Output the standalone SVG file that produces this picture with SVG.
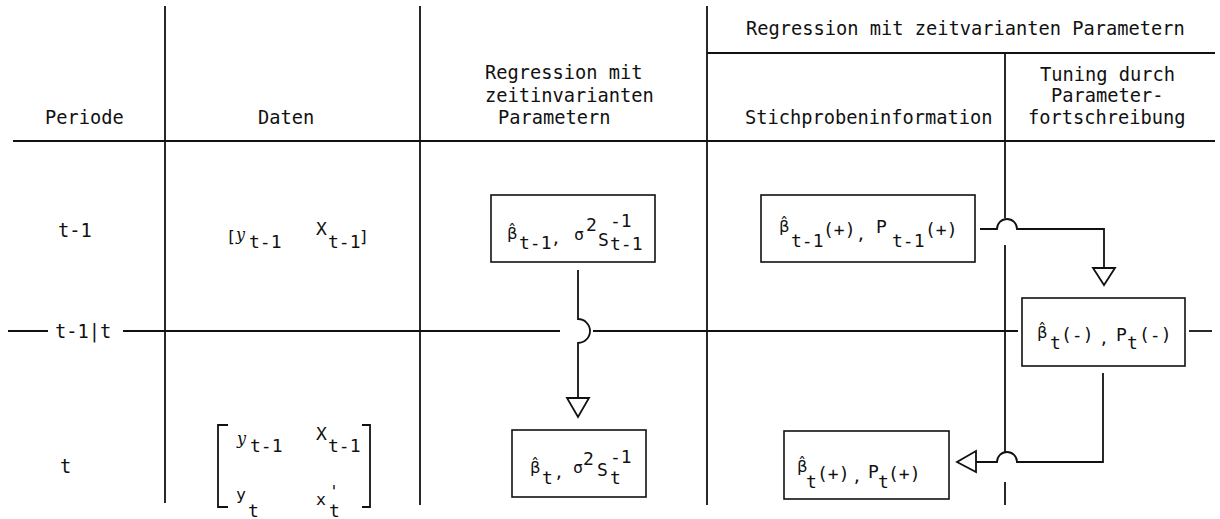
<svg xmlns="http://www.w3.org/2000/svg" width="1220" height="519" viewBox="0 0 1220 519">
<style>
text{font-family:"DejaVu Sans Mono","Liberation Mono",monospace;fill:#111;font-size:18.7px}
.sm{font-size:16.5px}
.sb{font-size:18px}
.bh{font-family:"DejaVu Sans","Noto Sans",sans-serif;font-size:16.5px}
.it{font-family:"DejaVu Serif","Liberation Serif",serif;font-style:italic;font-size:16px}
.ln{stroke:#111;stroke-width:1.8;fill:none}
.bx{stroke:#111;stroke-width:1.6;fill:#fff}
.ah{stroke:#111;stroke-width:1.8;fill:#fff}
</style>
<g id="grid">
<line class="ln" x1="165" y1="6" x2="165" y2="503"/>
<line class="ln" x1="420" y1="6" x2="420" y2="505"/>
<line class="ln" x1="707" y1="6" x2="707" y2="505"/>
<line class="ln" x1="1005" y1="53" x2="1005" y2="218"/>
<line class="ln" x1="1005" y1="245" x2="1005" y2="452"/>
<line class="ln" x1="1005" y1="482" x2="1005" y2="505"/>
<line class="ln" x1="707" y1="53" x2="1215" y2="53"/>
<line class="ln" x1="13" y1="141" x2="1215" y2="141"/>
<line class="ln" x1="8" y1="331" x2="48" y2="331"/>
<line class="ln" x1="123" y1="331" x2="560" y2="331"/>
<line class="ln" x1="593" y1="331" x2="1018" y2="331"/>
<line class="ln" x1="1189" y1="331" x2="1212" y2="331"/>
</g>
<g id="headers">
<text x="45" y="124">Periode</text>
<text x="258" y="124">Daten</text>
<text x="485" y="79">Regression mit</text>
<text x="485" y="102">zeitinvarianten</text>
<text x="498" y="124">Parametern</text>
<text x="746" y="35">Regression mit zeitvarianten Parametern</text>
<text x="745" y="124">Stichprobeninformation</text>
<text x="1040" y="81">Tuning durch</text>
<text x="1051" y="102">Parameter-</text>
<text x="1028" y="124">fortschreibung</text>
</g>
<g id="rows">
<text x="58" y="237">t-1</text>
<text x="55" y="338">t-1|t</text>
<text x="60" y="473">t</text>
</g>
<g id="data-t1">
<text x="226" y="242" class="sm">[</text>
<text x="236" y="240" class="it">y</text>
<text x="249" y="248" class="sb">t-1</text>
<text x="316" y="235" class="sb">X</text>
<text x="328" y="248" class="sb">t-1</text>
<text x="359" y="242" class="sm">]</text>
</g>
<g id="data-t">
<path class="ln" d="M228,425 H218 V507 H228 M362,425 H370 V507 H362" stroke-width="1.6"/>
<text x="237" y="444" class="it">y</text>
<text x="250" y="452" class="sb">t-1</text>
<text x="316" y="440" class="sb">X</text>
<text x="328" y="452" class="sb">t-1</text>
<text x="236" y="500" class="sm">y</text>
<text x="248" y="517" class="sb">t</text>
<text x="316" y="505" class="sm">x</text>
<text x="329" y="497" class="sm">'</text>
<text x="329" y="517" class="sb">t</text>
</g>
<g id="box-b-t1">
<rect class="bx" x="491" y="195" width="164" height="67"/>
<text x="507" y="239" class="bh">β̂</text>
<text x="519" y="249" class="sb">t-1</text>
<text x="551" y="244" class="sm">,</text>
<text x="574" y="240" class="sm">σ</text>
<text x="586" y="231" class="sb">2</text>
<text x="598" y="246" class="sb">S</text>
<text x="610" y="227" class="sb">-1</text>
<text x="610" y="250" class="sb">t-1</text>
</g>
<g id="box-b-t">
<rect class="bx" x="512" y="430" width="134" height="67"/>
<text x="530" y="473" class="bh">β̂</text>
<text x="542" y="484" class="sb">t</text>
<text x="554" y="478" class="sm">,</text>
<text x="573" y="473" class="sm">σ</text>
<text x="583" y="465" class="sb">2</text>
<text x="597" y="476" class="sb">S</text>
<text x="610" y="463" class="sb">-1</text>
<text x="610" y="484" class="sb">t</text>
</g>
<g id="box-bp-t1">
<rect class="bx" x="761" y="195" width="214" height="67"/>
<text x="779" y="232" class="bh">β̂</text>
<text x="791" y="247" class="sb">t-1</text>
<text x="823" y="236" class="sb">(+)</text>
<text x="856" y="240" class="sm">,</text>
<text x="876" y="233" class="sb">P</text>
<text x="892" y="247" class="sb">t-1</text>
<text x="925" y="236" class="sb">(+)</text>
</g>
<g id="box-bm-t">
<rect class="bx" x="1022" y="298" width="163" height="68"/>
<text x="1037" y="338" class="bh">β̂</text>
<text x="1050" y="349" class="sb">t</text>
<text x="1061" y="341" class="sb">(-)</text>
<text x="1099" y="344" class="sm">,</text>
<text x="1116" y="341" class="sb">P</text>
<text x="1127" y="349" class="sb">t</text>
<text x="1139" y="341" class="sb">(-)</text>
</g>
<g id="box-bp-t">
<rect class="bx" x="784" y="431" width="165" height="68"/>
<text x="797" y="472" class="bh">β̂</text>
<text x="806" y="488" class="sb">t</text>
<text x="817" y="480" class="sb">(+)</text>
<text x="852" y="482" class="sm">,</text>
<text x="868" y="478" class="sb">P</text>
<text x="878" y="488" class="sb">t</text>
<text x="888" y="480" class="sb">(+)</text>
</g>
<g id="connectors">
<path class="ln" d="M578,270 V319 A12,12 0 0 1 578,343 V398"/>
<polygon class="ah" points="567,398 589,398 578,417"/>
<path class="ln" d="M980,229 H997 A10,10 0 0 1 1017,229 H1104 V268"/>
<polygon class="ah" points="1093,268 1115,268 1104,285"/>
<path class="ln" d="M1103,373 V462 H1017 A10,10 0 0 0 997,462 H976"/>
<polygon class="ah" points="976,451 976,472 957,462"/>
</g>
</svg>
